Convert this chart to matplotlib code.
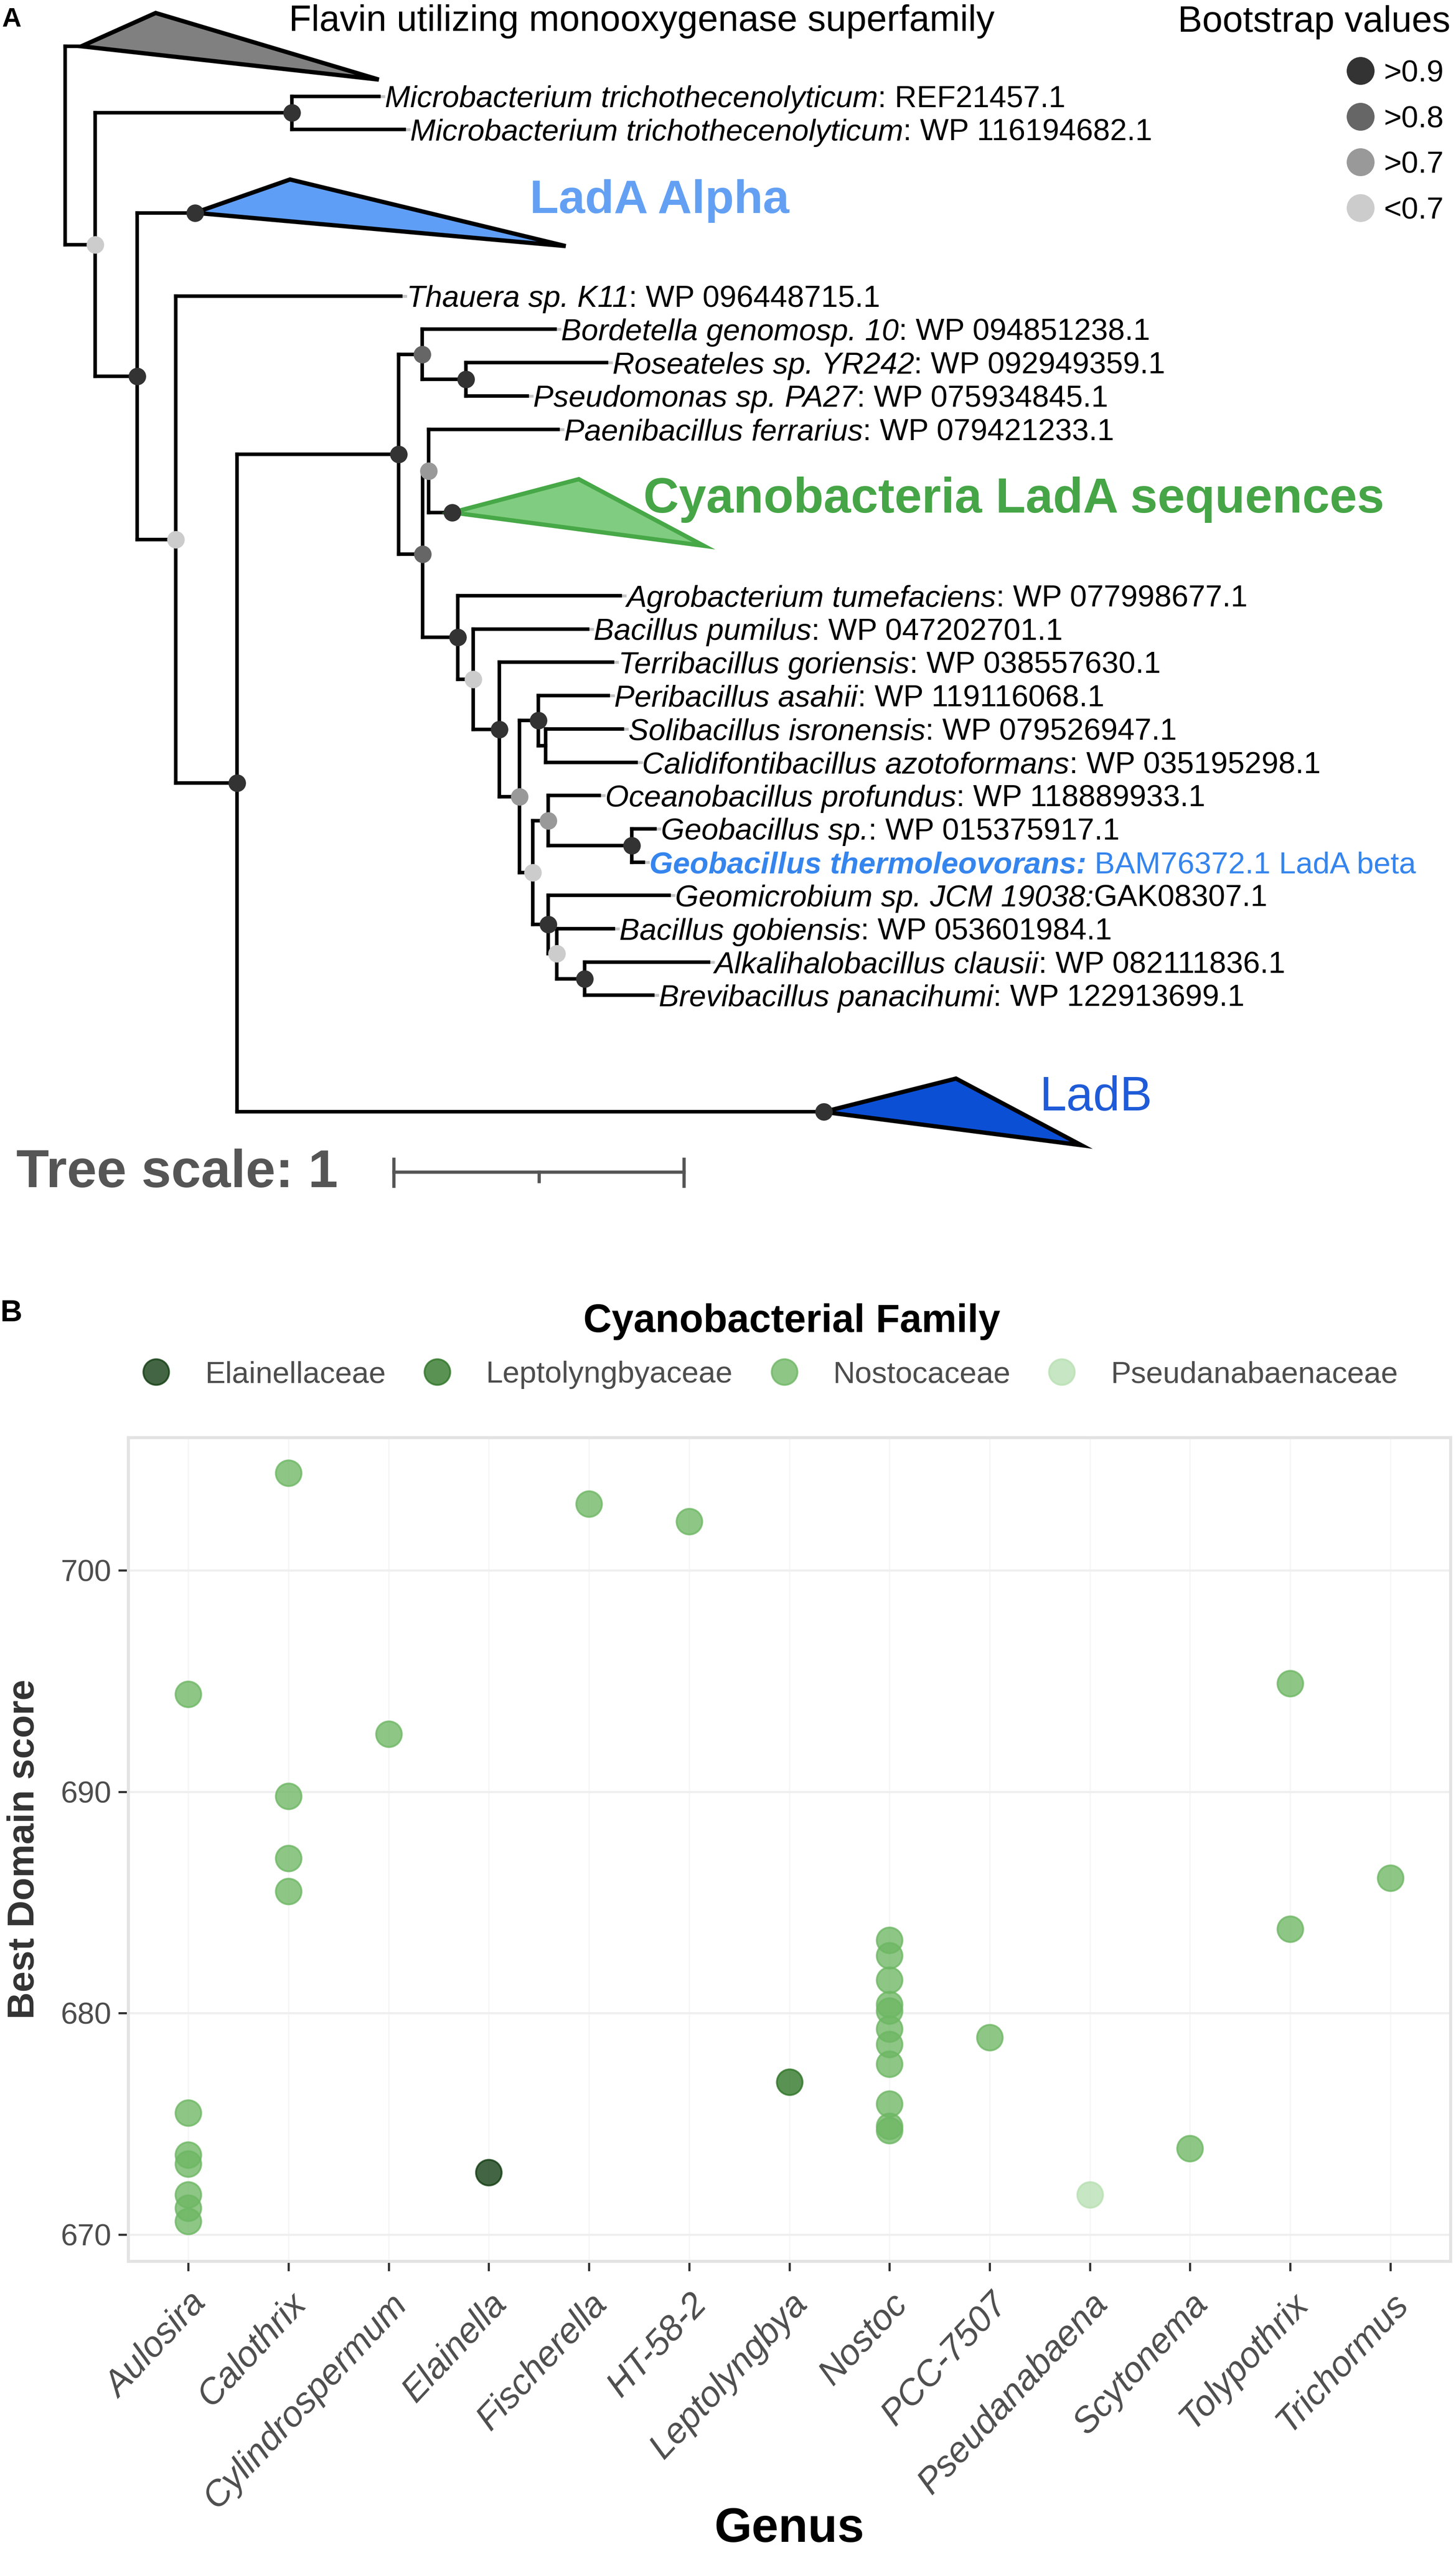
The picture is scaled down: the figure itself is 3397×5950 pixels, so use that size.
import matplotlib
matplotlib.use("Agg")
import matplotlib.pyplot as plt
from matplotlib.lines import Line2D
from matplotlib.patches import Polygon
from matplotlib.collections import LineCollection

plt.rcParams['font.family'] = ['Liberation Sans', 'DejaVu Sans']

# ---------------- Panel A data: LadA tree ----------------
# newick, internal labels are bootstrap support, lengths in tree units
TREE_NEWICK = (
    "(FMO:0.056,((MT1:0.300,MT2:0.387)0.95:0.678,(ALPHA:0.199,(THA:0.775,"
    "(((BOR:0.458,(ROS:0.484,PSE:0.211)0.95:0.151)0.85:0.081,"
    "((PAE:0.445,CYA:0.081)0.75:0.021,(AGR:0.560,(BPU:0.394,(TER:0.390,"
    "((PER:0.241,(SOL:0.264,CAL:0.312):0.025)0.95:0.066,"
    "((OCE:0.176,(GEO:0.080,GTH:0.040)0.95:0.288)0.75:0.053,"
    "(GMI:0.417,(BGO:0.195,(ALK:0.427,BRE:0.235)0.95:0.096)0.6:0.030)0.95:0.053)0.6:0.046"
    ")0.75:0.069)0.95:0.090)0.6:0.053)0.95:0.121)0.85:0.083)0.95:0.557,LADB:2.022)0.95:0.211"
    ")0.6:0.133)0.95:0.145)0.6:0.103);"
)

LEAF_IDS = ['MT1', 'MT2', 'THA', 'BOR', 'ROS', 'PSE', 'PAE', 'AGR', 'BPU', 'TER',
            'PER', 'SOL', 'CAL', 'OCE', 'GEO', 'GTH', 'GMI', 'BGO', 'ALK', 'BRE']
LEAF_TAXON = ['Microbacterium trichothecenolyticum', 'Microbacterium trichothecenolyticum',
              'Thauera sp. K11', 'Bordetella genomosp. 10', 'Roseateles sp. YR242',
              'Pseudomonas sp. PA27', 'Paenibacillus ferrarius', 'Agrobacterium tumefaciens',
              'Bacillus pumilus', 'Terribacillus goriensis', 'Peribacillus asahii',
              'Solibacillus isronensis', 'Calidifontibacillus azotoformans',
              'Oceanobacillus profundus', 'Geobacillus sp.', 'Geobacillus thermoleovorans:',
              'Geomicrobium sp. JCM 19038:', 'Bacillus gobiensis', 'Alkalihalobacillus clausii',
              'Brevibacillus panacihumi']
LEAF_ACCESSION = [': REF21457.1', ': WP 116194682.1', ': WP 096448715.1', ': WP 094851238.1',
                  ': WP 092949359.1', ': WP 075934845.1', ': WP 079421233.1', ': WP 077998677.1',
                  ': WP 047202701.1', ': WP 038557630.1', ': WP 119116068.1', ': WP 079526947.1',
                  ': WP 035195298.1', ': WP 118889933.1', ': WP 015375917.1',
                  ' BAM76372.1 LadA beta', 'GAK08307.1', ': WP 053601984.1',
                  ': WP 082111836.1', ': WP 122913699.1']
HIGHLIGHT_LEAF = 'GTH'

# collapsed clades: shortest / longest leaf distance from clade node, node support
CLADE_IDS = ['FMO', 'ALPHA', 'CYA', 'LADB']
CLADE_NAMES = ['Flavin utilizing monooxygenase superfamily', 'LadA Alpha',
               'Cyanobacteria LadA sequences', 'LadB']
CLADE_MIN_DEPTH = [0.256, 0.328, 0.436, 0.456]
CLADE_MAX_DEPTH = [1.025, 1.278, 0.867, 0.888]
CLADE_SUPPORT = [None, 0.95, 0.95, 0.95]

SUPPORT_LABELS = ['>0.9', '>0.8', '>0.7', '<0.7']
SUPPORT_CUTS = [0.9, 0.8, 0.7, 0.0]
SCALE_BAR = 1

# ---------------- Panel B data: best domain scores ----------------
GENERA = ['Aulosira', 'Calothrix', 'Cylindrospermum', 'Elainella', 'Fischerella', 'HT-58-2',
          'Leptolyngbya', 'Nostoc', 'PCC-7507', 'Pseudanabaena', 'Scytonema', 'Tolypothrix',
          'Trichormus']
GENUS_FAMILY = ['Nostocaceae', 'Nostocaceae', 'Nostocaceae', 'Elainellaceae', 'Nostocaceae',
                'Nostocaceae', 'Leptolyngbyaceae', 'Nostocaceae', 'Nostocaceae',
                'Pseudanabaenaceae', 'Nostocaceae', 'Nostocaceae', 'Nostocaceae']
FAMILIES = ['Elainellaceae', 'Leptolyngbyaceae', 'Nostocaceae', 'Pseudanabaenaceae']

POINT_GENUS = ['Aulosira'] * 7 + ['Calothrix'] * 4 + ['Cylindrospermum', 'Elainella',
               'Fischerella', 'HT-58-2', 'Leptolyngbya'] + ['Nostoc'] * 11 + \
              ['PCC-7507', 'Pseudanabaena', 'Scytonema', 'Tolypothrix', 'Tolypothrix',
               'Trichormus']
POINT_SCORE = [694.4, 675.5, 673.6, 673.2, 671.8, 671.2, 670.6,
               704.4, 689.8, 687.0, 685.5,
               692.6, 672.8, 703.0, 702.2, 676.9,
               683.3, 682.6, 681.5, 680.4, 680.1, 679.3, 678.6, 677.7, 675.9, 674.9, 674.7,
               678.9, 671.8, 673.9, 694.9, 683.8, 686.1]

# ---------------- layout / style ----------------
W, H, DPI = 3397, 5950, 300
ROOT_X, UNIT_PX = 152, 677          # tree x: root position and px per tree unit
TOP_Y, SLOT_PX = 108, 77.7          # tree y: first row and px per leaf row
CLADE_ROWS = {'FMO': 2, 'ALPHA': 4, 'CYA': 4, 'LADB': 6}
SUPPORT_COLORS = ['#333333', '#666666', '#999999', '#cccccc']
CLADE_FILL = ['#808080', '#5f9ef6', '#80cc80', '#0b4fd5']
CLADE_EDGE = ['black', 'black', '#47a847', 'black']
CLADE_TEXT_COLOR = ['black', '#63a0f3', '#46a546', '#1f5bd8']
FAMILY_COLORS = ['#0e3a0e', '#2c7324', '#6db763', '#b8e0b2']
BRANCH_LW = 2.0


def parse_newick(s):
    s = s.strip().rstrip(';')
    pos = 0

    def node():
        nonlocal pos
        n = {'children': [], 'name': '', 'length': 0.0}
        if s[pos] == '(':
            pos += 1
            while True:
                n['children'].append(node())
                if s[pos] == ',':
                    pos += 1
                else:
                    pos += 1  # ')'
                    break
        start = pos
        while pos < len(s) and s[pos] not in ':,()':
            pos += 1
        n['name'] = s[start:pos]
        if pos < len(s) and s[pos] == ':':
            pos += 1
            start = pos
            while pos < len(s) and s[pos] not in ',()':
                pos += 1
            n['length'] = float(s[start:pos])
        return n

    return node()


def layout(n, depth, state):
    n['x'] = depth + n['length']
    if not n['children']:
        h = CLADE_ROWS.get(n['name'], 1)
        y = 0.0 if state['h'] is None else state['y'] + (state['h'] + h) / 2
        state['y'], state['h'] = y, h
        n['y'] = y
    else:
        for c in n['children']:
            layout(c, n['x'], state)
        n['y'] = (n['children'][0]['y'] + n['children'][-1]['y']) / 2


def walk(n):
    yield n
    for c in n['children']:
        yield from walk(c)


def support_color(v):
    for cut, col in zip(SUPPORT_CUTS, SUPPORT_COLORS):
        if v > cut:
            return col
    return SUPPORT_COLORS[-1]


def fxy(px, py):
    return px / W, 1 - py / H


fig = plt.figure(figsize=(W / DPI, H / DPI), dpi=DPI)
renderer = fig.canvas.get_renderer()

# ================= Panel A =================
A_BOTTOM = 2900
axA = fig.add_axes([0, 1 - A_BOTTOM / H, 1, A_BOTTOM / H])
axA.set_xlim(-ROOT_X / UNIT_PX, (W - ROOT_X) / UNIT_PX)
axA.set_ylim((A_BOTTOM - TOP_Y) / SLOT_PX, -TOP_Y / SLOT_PX)
axA.axis('off')

tree = parse_newick(TREE_NEWICK)
layout(tree, 0.0, {'y': 0.0, 'h': None})

segs = []
for n in walk(tree):
    for c in n['children']:
        segs.append([(n['x'], c['y']), (c['x'], c['y'])])
    if n['children']:
        segs.append([(n['x'], n['children'][0]['y']), (n['x'], n['children'][-1]['y'])])
axA.add_collection(LineCollection(segs, colors='black', linewidths=BRANCH_LW,
                                  capstyle='projecting', zorder=2))

gap = 14 / UNIT_PX
for n in walk(tree):
    name = n['name']
    if n['children']:
        if name:
            axA.plot(n['x'], n['y'], 'o', ms=9.8, color=support_color(float(name)),
                     mec='none', zorder=6)
        continue
    if name in CLADE_IDS:
        i = CLADE_IDS.index(name)
        x, y = n['x'], n['y']
        tri = Polygon([(x, y), (x + CLADE_MIN_DEPTH[i], y - 1), (x + CLADE_MAX_DEPTH[i], y + 1)],
                      closed=True, facecolor=CLADE_FILL[i], edgecolor=CLADE_EDGE[i],
                      lw=2.4, joinstyle='miter', zorder=3)
        axA.add_patch(tri)
        if CLADE_SUPPORT[i] is not None:
            axA.plot(x, y, 'o', ms=9.8, color=support_color(CLADE_SUPPORT[i]),
                     mec='none', zorder=6)
        continue
    i = LEAF_IDS.index(name)
    x, y = n['x'], n['y']
    axA.plot([x, x + gap * 0.8], [y, y], color='#c4c4c4', lw=1.6, zorder=1)
    hi = name == HIGHLIGHT_LEAF
    col = '#3585ee' if hi else 'black'
    t1 = axA.text(x + gap, y, LEAF_TAXON[i], fontsize=17, style='italic',
                  fontweight='bold' if hi else 'normal', color=col,
                  va='center_baseline', ha='left')
    bb = t1.get_window_extent(renderer)
    x1 = axA.transData.inverted().transform((bb.x1, 0))[0]
    axA.text(x1, y, LEAF_ACCESSION[i], fontsize=17, color=col,
             va='center_baseline', ha='left')

# clade labels
clade_label_pos = [(674, 72), (1236, 497), (1501, 1196), (2426, 2591)]
clade_label_size = [20.5, 26.5, 27.5, 27]
clade_label_weight = ['normal', 'bold', 'bold', 'normal']
for i, name in enumerate(CLADE_NAMES):
    fig.text(*fxy(*clade_label_pos[i]), name, fontsize=clade_label_size[i],
             fontweight=clade_label_weight[i], color=CLADE_TEXT_COLOR[i],
             ha='left', va='baseline')

# bootstrap legend
fig.text(*fxy(3384, 52), 'Bootstrap values', fontsize=20.5, ha='right', va='center')
for k, lab in enumerate(SUPPORT_LABELS):
    yy = 165 + k * 106.7
    fig.lines.append(Line2D([3174 / W], [1 - yy / H], marker='o', ms=15.6, ls='',
                            color=SUPPORT_COLORS[k], mec='none', transform=fig.transFigure))
    fig.text(*fxy(3228, yy), lab, fontsize=17, ha='left', va='center_baseline')

# tree scale bar
sb_x0 = (919 - ROOT_X) / UNIT_PX
sb_y = (2735 - TOP_Y) / SLOT_PX
sb_col = '#555555'
axA.plot([sb_x0, sb_x0 + SCALE_BAR], [sb_y, sb_y], color=sb_col, lw=1.8)
for xx in (sb_x0, sb_x0 + SCALE_BAR):
    axA.plot([xx, xx], [sb_y - 0.39, sb_y + 0.42], color=sb_col, lw=1.8)
axA.plot([sb_x0 + SCALE_BAR / 2] * 2, [sb_y, sb_y + 0.28], color=sb_col, lw=1.8)
fig.text(*fxy(38, 2770), 'Tree scale: %g' % SCALE_BAR, fontsize=30, fontweight='bold',
         color=sb_col, ha='left', va='baseline')

fig.text(*fxy(4, 16), 'A', fontsize=15, fontweight='bold', ha='left', va='top')

# ================= Panel B =================
fig.text(*fxy(0, 3032), 'B', fontsize=17, fontweight='bold', ha='left', va='top')

L, R, T, B = 299, 3384, 3354, 5276
axB = fig.add_axes([L / W, 1 - B / H, (R - L) / W, (B - T) / H])

xpos = [GENERA.index(g) for g in POINT_GENUS]
fam = [GENUS_FAMILY[GENERA.index(g)] for g in POINT_GENUS]
for f, c in zip(FAMILIES, FAMILY_COLORS):
    xs = [x for x, ff in zip(xpos, fam) if ff == f]
    ys = [s for s, ff in zip(POINT_SCORE, fam) if ff == f]
    axB.scatter(xs, ys, s=207, color=c, alpha=0.78, edgecolors=c, linewidths=1.0, zorder=3)

axB.set_xlim(-0.6, len(GENERA) - 0.4)
axB.set_ylim(668.8, 706.0)
axB.set_yticks([670, 680, 690, 700])
axB.set_xticks(range(len(GENERA)))
axB.set_xticklabels(GENERA, rotation=47, ha='right', va='top', rotation_mode='anchor',
                    fontstyle='italic')
axB.grid(axis='y', color='#efefef', lw=1.2, zorder=0)
axB.grid(axis='x', color='#f6f6f6', lw=0.8, zorder=0)
axB.set_axisbelow(True)
for sp in axB.spines.values():
    sp.set_color('#e3e3e3')
    sp.set_linewidth(1.7)
axB.tick_params(axis='both', length=5.5, width=1.2, color='#333333', labelcolor='#4d4d4d')
axB.tick_params(axis='y', labelsize=17, pad=4)
axB.tick_params(axis='x', labelsize=20, pad=9)

axB.set_ylabel('Best Domain score', fontsize=21, fontweight='bold', color='#333333',
               va='center')
axB.yaxis.set_label_coords((57 - L) / (R - L), 0.5)
axB.set_xlabel('Genus', fontsize=27, fontweight='bold', va='center')
axB.xaxis.set_label_coords(0.5, -(5902 - B) / (B - T))

handles = [Line2D([], [], marker='o', ls='', ms=14.4, color=c, mec=c, alpha=0.78)
           for c in FAMILY_COLORS]
fig.legend(handles, FAMILIES, loc='center', bbox_to_anchor=fxy(1795, 3208), ncol=4,
           frameon=False, fontsize=17, handlelength=1.0, handletextpad=1.1,
           columnspacing=1.2, labelcolor='#4d4d4d')
fig.text(*fxy(1847, 3084), 'Cyanobacterial Family', fontsize=22, fontweight='bold',
         ha='center', va='center')

fig.savefig('out.png', dpi=DPI)
plt.close(fig)
